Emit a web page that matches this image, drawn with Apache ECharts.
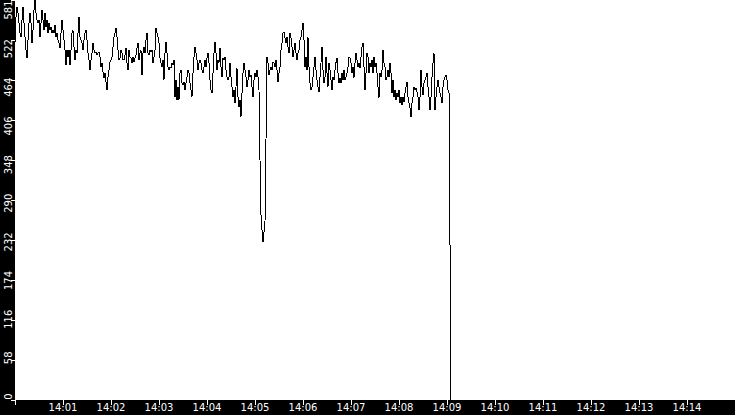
<!DOCTYPE html>
<html>
<head>
<meta charset="utf-8">
<script src="https://cdn.jsdelivr.net/npm/echarts@6/dist/echarts.min.js"></script>
<style>
  html, body { margin: 0; padding: 0; background: #000; }
  #main { width: 735px; height: 415px; }
  /* the original is drawn without anti-aliasing */
  #main svg path { shape-rendering: crispEdges; }
</style>
</head>
<body>
<div id="main"></div>
<script>
// samples are 1.25 s apart, starting at 14:00:00
var startTime = new Date(2020, 0, 1, 14, 0, 0).getTime();
var endTime = startTime + 15 * 60000;
var stepMs = 1250;

var values = [
  520, 556, 571, 562, 548, 533, 527, 552, 571, 548,
  527, 508, 497, 523, 548, 562, 548, 519, 537, 566,
  581, 562, 552, 548, 552, 527, 548, 566, 552, 537,
  562, 542, 552, 533, 548, 537, 542, 533, 537, 533,
  545, 527, 533, 523, 519, 511, 533, 552, 537, 523,
  508, 487, 508, 498, 508, 487, 508, 533, 537, 513,
  494, 508, 504, 533, 556, 527, 523, 519, 508, 523,
  533, 537, 523, 504, 494, 479, 494, 504, 519, 508,
  504, 505, 501, 504, 505, 498, 484, 490, 476, 468,
  475, 462, 450, 469, 479, 491, 494, 498, 513, 527,
  533, 540, 527, 508, 494, 497, 508, 504, 494,
  // 14:02
  494, 501, 511, 490, 479, 508, 498, 497, 490, 498,
  491, 497, 501, 511, 519, 494, 504, 508, 472, 504,
  513, 504, 523, 533, 504, 501, 508, 505, 508, 490,
  498, 508, 540, 533, 527, 519, 497, 490, 484, 494,
  465, 504, 520, 504, 484, 479, 484, 482, 490, 487,
  494, 440, 465, 436, 455, 436, 475, 479, 460, 458,
  462, 450, 460, 469, 479, 475, 460, 450, 440, 475,
  498, 513, 504, 494, 479, 490, 494, 490, 479, 475,
  484, 494, 484, 497, 504, 490, 465, 450, 446, 475,
  504, 520, 504, 479, 494, 490, 511, 484, 469, 497,
  494, 498, 479, 469, 465, 469,
  // 14:04
  490, 469, 455, 440, 450, 431, 455, 482, 440, 426,
  436, 411, 446, 475, 490, 479, 469, 455, 465, 479,
  469, 472, 455, 440, 465, 475, 469, 479, 469, 450,
  // dip near 14:05
  349, 269, 247, 229, 244, 259, 378,
  498, 490, 472, 479, 484, 479, 491, 490, 484, 494,
  479, 462, 475, 484, 508, 519, 533, 535, 526, 519,
  527, 513, 504, 533, 526, 513, 498, 508, 519, 504,
  494, 504, 508, 523, 527, 537, 548, 523, 484, 498,
  479, 527, 484, 460, 450, 455, 469, 484, 498, 479,
  465, 455, 447, 469, 490, 513, 479, 460, 469, 498,
  475, 455, 490, 479, 465, 450, 469, 465,
  // 14:07
  479, 490, 497, 475, 460, 468, 460, 475, 465, 479,
  465, 469, 475, 484, 498, 497, 490, 475, 484, 468,
  490, 504, 494, 484, 490, 482, 498, 513, 519, 484,
  450, 475, 504, 498, 475, 490, 484, 494, 475, 498,
  484, 490, 475, 455, 439, 475, 469, 479, 508, 490,
  484, 465, 469, 479, 469, 490, 475, 446, 465, 440,
  450, 436, 446, 440, 450, 431, 440, 428, 440, 433,
  446, 455, 462, 440, 431, 424, 411, 431, 440, 455,
  450, 453, 447, 440, 421, 440, 479, 455, 443, 460,
  465, 469, 475, 455, 440, 421, 440, 469, 490, 504,
  421, 440, 455, 465, 455, 446, 440, 431, 455, 465,
  469, 472, 465, 450, 446,
  // signal lost at 14:09
  225, 0
];

var yTickLabels = ['0', '58', '116', '174', '232', '290', '348', '406', '464', '522', '581'];

var seriesData = values.map(function (v, i) {
  return [startTime + i * stepMs, v];
});

var chart = echarts.init(document.getElementById('main'), null, { renderer: 'svg' });

var option = {
  animation: false,
  backgroundColor: '#000',
  grid: [
    {
      left: 15,
      right: 0,
      top: 0,
      bottom: 15,
      containLabel: false,
      outerBoundsMode: 'none',
      show: true,
      backgroundColor: '#fff',
      borderWidth: 0
    },
    {
      // the y labels are spread a bit tighter than the ticks
      left: 15,
      right: 0,
      top: 10,
      bottom: 18.5,
      containLabel: false,
      outerBoundsMode: 'none',
      show: false
    }
  ],
  xAxis: [
    {
      type: 'time',
      min: startTime,
      max: endTime,
      splitNumber: 15,
      minInterval: 60000,
      maxInterval: 60000,
      axisLine: { show: false },
      axisTick: { show: true, length: 5, lineStyle: { color: '#fff', width: 1 } },
      splitLine: { show: false },
      axisLabel: {
        color: '#fff',
        fontFamily: 'DejaVu Sans',
        fontSize: 10,
        margin: 2,
        hideOverlap: false,
        formatter: function (v) {
          if (v <= startTime || v >= endTime) return '';
          return echarts.time.format(v, '{HH}:{mm}', false);
        }
      }
    },
    { gridIndex: 1, type: 'value', show: false }
  ],
  yAxis: [
    {
      type: 'value',
      min: 0,
      max: 581,
      interval: 58.1,
      axisLine: { show: false },
      axisTick: { show: true, length: 4, lineStyle: { color: '#fff', width: 1 } },
      splitLine: { show: false },
      axisLabel: { show: false }
    },
    {
      gridIndex: 1,
      type: 'value',
      min: 0,
      max: yTickLabels.length - 1,
      interval: 1,
      axisLine: { show: false },
      axisTick: { show: false },
      splitLine: { show: false },
      axisLabel: {
        color: '#fff',
        fontFamily: 'DejaVu Sans',
        fontSize: 10,
        rotate: 90,
        align: 'center',
        verticalAlign: 'bottom',
        margin: 2,
        formatter: function (v, i) {
          return yTickLabels[i];
        }
      }
    }
  ],
  series: [
    {
      type: 'line',
      data: seriesData,
      showSymbol: false,
      symbol: 'none',
      smooth: false,
      sampling: null,
      lineStyle: { color: '#000', width: 1 }
    }
  ]
};

chart.setOption(option);
</script>
</body>
</html>
